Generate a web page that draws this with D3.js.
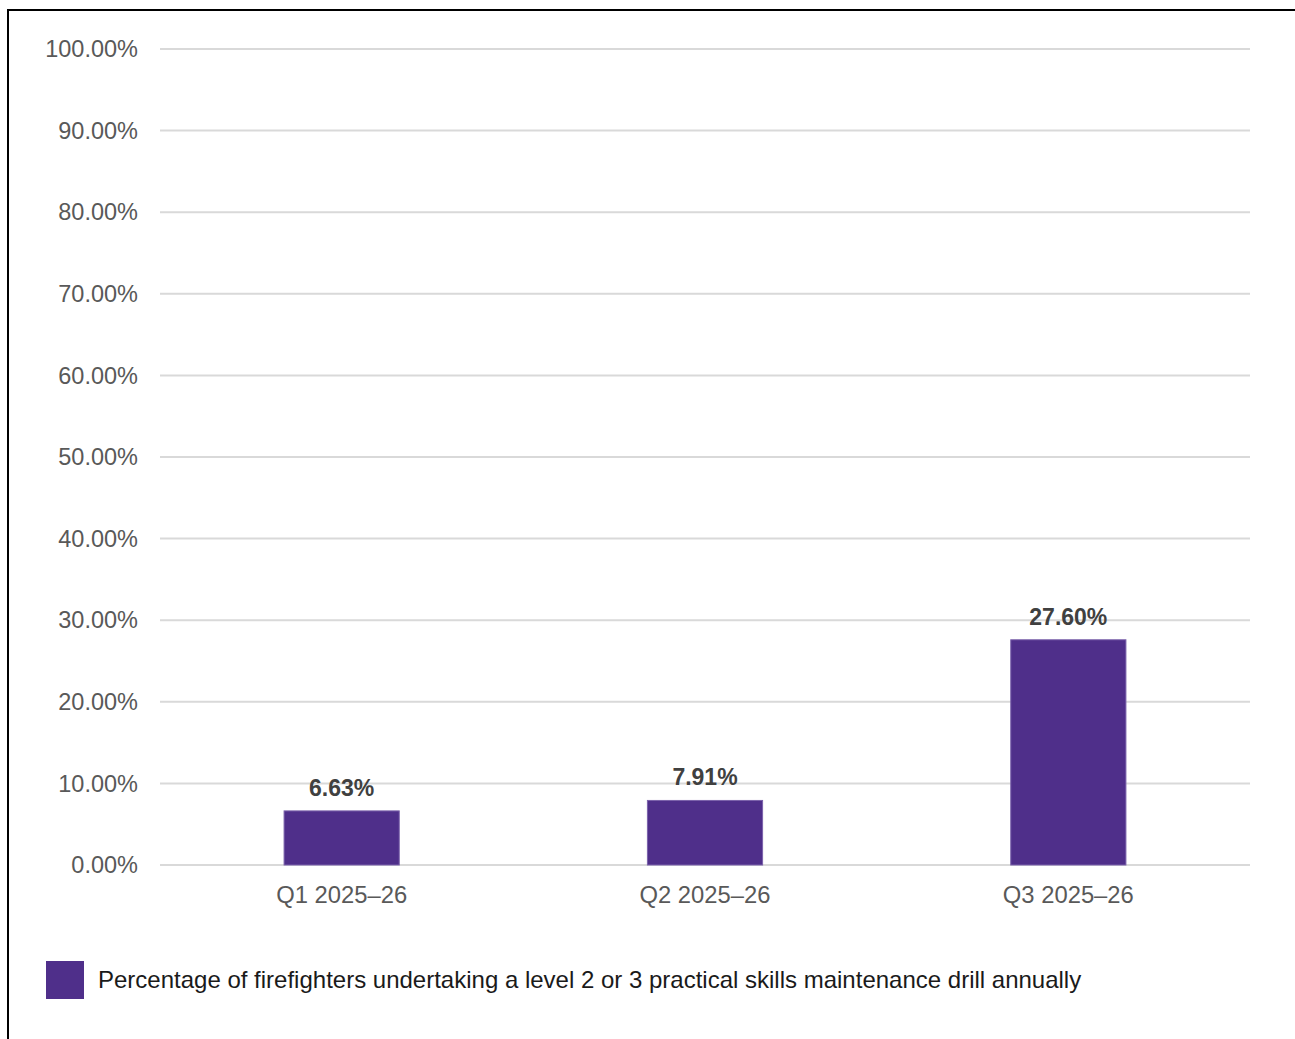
<!DOCTYPE html>
<html>
<head>
<meta charset="utf-8">
<script src="https://cdn.jsdelivr.net/npm/d3@7"></script>
<style>
  body { margin: 0; background: #fff; }
  svg { display: block; font-family: "Liberation Sans", Arial, sans-serif; }
</style>
</head>
<body>
<svg id="graph" width="1295" height="1039"></svg>
<script>
  var categories = ["Q1 2025–26", "Q2 2025–26", "Q3 2025–26"];
  var values = [6.63, 7.91, 27.60];
  var yTicks = [0, 10, 20, 30, 40, 50, 60, 70, 80, 90, 100];
  var seriesName = "Percentage of firefighters undertaking a level 2 or 3 practical skills maintenance drill annually";

  var svg = d3.select("#graph");
  var barColor = "#4f2f8a";
  var plotLeft = 160, plotRight = 1250, plotTop = 49, plotBottom = 865;

  // frame
  svg.append("path")
    .attr("d", "M8,1039 V10 H1295")
    .attr("fill", "none")
    .attr("stroke", "#000")
    .attr("stroke-width", 2);

  var x = d3.scaleBand()
    .domain(categories)
    .range([plotLeft, plotRight])
    .paddingInner(0.683)
    .paddingOuter(0.3415);

  var y = d3.scaleLinear()
    .domain([0, 100])
    .range([plotBottom, plotTop]);

  // gridlines
  svg.append("g").selectAll("line").data(yTicks).enter().append("line")
    .attr("x1", plotLeft).attr("x2", plotRight)
    .attr("y1", function(d) { return y(d); })
    .attr("y2", function(d) { return y(d); })
    .attr("stroke", "#d9d9d9")
    .attr("stroke-width", 2);

  // y tick labels
  svg.append("g").selectAll("text").data(yTicks).enter().append("text")
    .attr("x", 138)
    .attr("y", function(d) { return y(d); })
    .attr("dy", "0.35em")
    .attr("text-anchor", "end")
    .attr("fill", "#595959")
    .style("font-size", "23.5px")
    .text(function(d) { return d.toFixed(2) + "%"; });

  // bars
  svg.append("g").selectAll("rect").data(values).enter().append("rect")
    .attr("x", function(d, i) { return x(categories[i]); })
    .attr("y", function(d) { return y(d); })
    .attr("width", x.bandwidth())
    .attr("height", function(d) { return plotBottom - y(d); })
    .attr("fill", barColor)
    .attr("stroke", "#7b62ab")
    .attr("stroke-width", 1);

  // value labels
  svg.append("g").selectAll("text").data(values).enter().append("text")
    .attr("x", function(d, i) { return x(categories[i]) + x.bandwidth() / 2; })
    .attr("y", function(d) { return y(d) - 15; })
    .attr("text-anchor", "middle")
    .attr("fill", "#404040")
    .style("font-size", "23px")
    .style("font-weight", "bold")
    .text(function(d) { return d.toFixed(2) + "%"; });

  // category labels
  svg.append("g").selectAll("text").data(categories).enter().append("text")
    .attr("x", function(d) { return x(d) + x.bandwidth() / 2; })
    .attr("y", 903)
    .attr("text-anchor", "middle")
    .attr("fill", "#595959")
    .style("font-size", "23.8px")
    .text(function(d) { return d; });

  // legend
  svg.append("rect")
    .attr("x", 46).attr("y", 961)
    .attr("width", 38).attr("height", 38)
    .attr("fill", barColor);

  svg.append("text")
    .attr("x", 98).attr("y", 980)
    .attr("dy", "0.35em")
    .attr("fill", "#1a1a1a")
    .style("font-size", "24px")
    .text(seriesName);
</script>
</body>
</html>
